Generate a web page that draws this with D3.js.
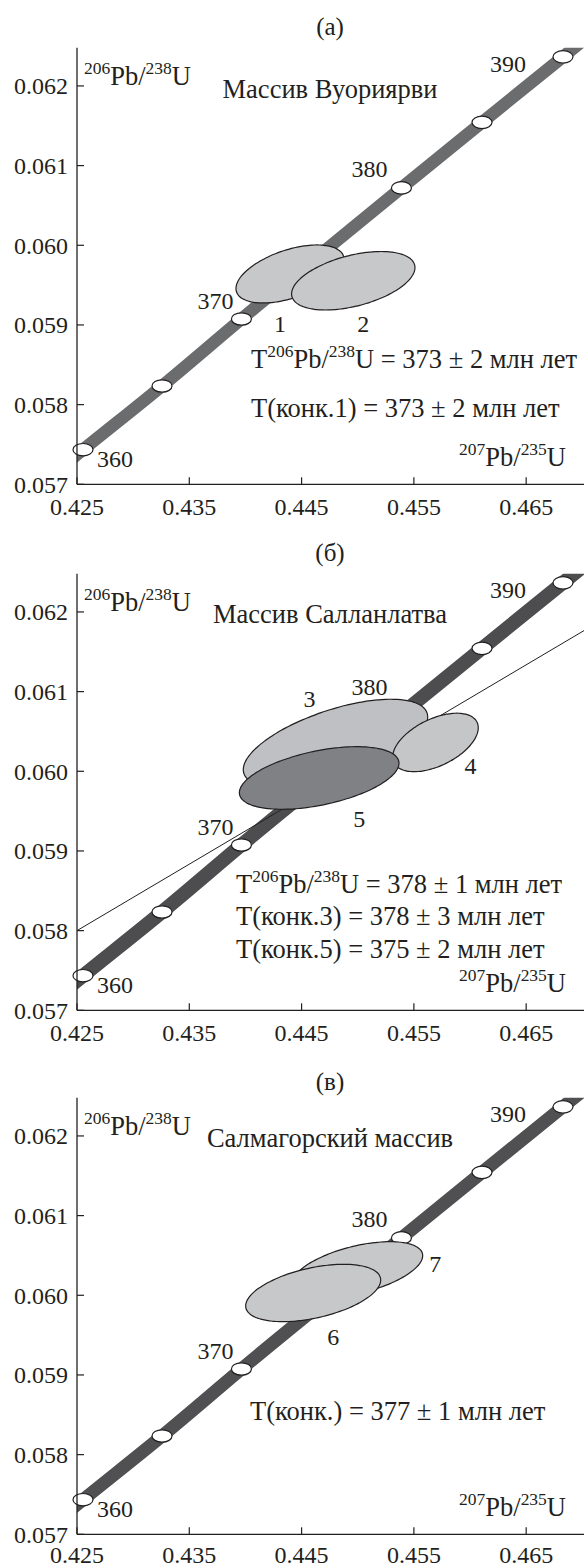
<!DOCTYPE html>
<html>
<head>
<meta charset="utf-8">
<script src="https://cdn.jsdelivr.net/npm/d3@7"></script>
<style>
  body { margin: 0; background: #fff; }
  svg { display: block; }
  text { font-family: "Liberation Serif", "Times New Roman", serif; fill: #231f20; }
</style>
</head>
<body>
<svg id="chart" width="584" height="1568"></svg>
<script>
// ---- data ----
const xTicks = [0.425, 0.435, 0.445, 0.455, 0.465];
const yTicks = [0.057, 0.058, 0.059, 0.060, 0.061, 0.062];

// concordia points (Ma, 207Pb/235U, 206Pb/238U)
const concordiaAges = [355, 360, 365, 370, 375, 380, 385, 390, 395];
const concordiaX = [0.418531, 0.425534, 0.432571, 0.439643, 0.446750, 0.453891, 0.461068, 0.468280, 0.475528];
const concordiaY = [0.056614, 0.057434, 0.058234, 0.059075, 0.059897, 0.060720, 0.061543, 0.062366, 0.063191];
const markerAges = [360, 365, 370, 375, 380, 385, 390];
const labelledAges = [360, 370, 380, 390];

// analyses: centre, 2-sigma half widths, correlation
const ellipsesA = [
  { id: "1", x: 0.443967, y: 0.059640, sx: 0.00481, sy: 0.000364, rho: 0.5 },
  { id: "2", x: 0.449604, y: 0.059555, sx: 0.005494, sy: 0.000367, rho: 0.45 }
];
const ellipsesB = [
  { id: "3", x: 0.448019, y: 0.060352, sx: 0.00821, sy: 0.000552, rho: 0.6 },
  { id: "4", x: 0.456923, y: 0.060362, sx: 0.003811, sy: 0.000367, rho: 0.5 },
  { id: "5", x: 0.446567, y: 0.059916, sx: 0.007106, sy: 0.000393, rho: 0.47 }
];
const ellipsesC = [
  { id: "7", x: 0.449960, y: 0.060322, sx: 0.005824, sy: 0.000351, rho: 0.5 },
  { id: "6", x: 0.446033, y: 0.060029, sx: 0.006011, sy: 0.000360, rho: 0.45 }
];

// discordia of panel (б)
const discordiaX = [0.4250, 0.4702];
const discordiaY = [0.05800, 0.06177];

const titles = ["(а)", "(б)", "(в)"];
const massifs = ["Массив Вуориярви", "Массив Салланлатва", "Салмагорский массив"];
const resultsA = [["T", "206", "Pb/", "238", "U = 373 ± 2 млн лет"], ["T(конк.1) = 373 ± 2 млн лет"]];
const resultsB = [["T", "206", "Pb/", "238", "U = 378 ± 1 млн лет"], ["T(конк.3) = 378 ± 3 млн лет"], ["T(конк.5) = 375 ± 2 млн лет"]];
const resultsC = [["T(конк.) = 377 ± 1 млн лет"]];

// ---- layout ----
const plotLeft = 77, plotRight = 584, plotTop = 47.7, plotBottom = 484.3;
const x = d3.scaleLinear().domain([0.425, 0.47015]).range([plotLeft, plotRight]);
const y = d3.scaleLinear().domain([0.057, 0.06248]).range([plotBottom, plotTop]);
const noteSize = 26.5;

const panels = [
  { off: 0, titleY: 35, ellipses: ellipsesA, results: resultsA, resX: 251, resY: [368, 417],
    band: "#6b6c6e", bandW: 12.5, fill: ["#c7c8ca", "#c7c8ca"],
    labelOff: { 1: [-10, 58], 2: [10, 51] }, age380: -11, discordia: false, xlabY: 515 },
  { off: 526, titleY: 35, ellipses: ellipsesB, results: resultsB, resX: 236, resY: [367, 399, 432],
    band: "#4d4d4f", bandW: 14, fill: ["#bfc0c3", "#c5c6c8", "#808184"],
    labelOff: { 3: [-26, -36], 4: [35, 32], 5: [40, 49] }, age380: -19, discordia: true, xlabY: 515 },
  { off: 1050, titleY: 40, ellipses: ellipsesC, results: resultsC, resX: 250, resY: [370],
    band: "#505052", bandW: 13, fill: ["#c7c8ca", "#c7c8ca"],
    labelOff: { 6: [20, 52], 7: [78, 2] }, age380: -11, discordia: false, xlabY: 513 }
];

const ageLabelOff = { 360: [32, 17], 370: [-26, -10], 380: [-32, -11], 390: [-55, 15] };

const svg = d3.select("#chart");
const defs = svg.append("defs");
defs.append("clipPath").attr("id", "plot-clip")
  .append("rect").attr("x", plotLeft).attr("y", plotTop)
  .attr("width", plotRight - plotLeft).attr("height", plotBottom - plotTop);

const concordia = concordiaAges.map((a, i) => ({ age: a, x: concordiaX[i], y: concordiaY[i] }));
const bandLine = d3.line().x(d => x(d.x)).y(d => y(d.y)).curve(d3.curveNatural);

function ellipsePath(e) {
  const pts = d3.range(0, 360, 3).map(deg => {
    const t = deg * Math.PI / 180;
    return [x(e.x + e.sx * Math.cos(t)),
            y(e.y + e.sy * (e.rho * Math.cos(t) + Math.sqrt(1 - e.rho * e.rho) * Math.sin(t)))];
  });
  return d3.line().curve(d3.curveCardinalClosed)(pts);
}

function ratioText(sel, parts, size) {
  // parts: plain, sup, plain, sup, plain ...
  const shift = Math.round(size * 0.42);
  parts.forEach((p, i) => {
    const sup = i % 2 === 1;
    sel.append("tspan")
      .attr("font-size", sup ? size * 0.66 : size)
      .attr("dy", sup ? -shift : (i > 0 ? shift : 0))
      .text(p);
  });
}

panels.forEach((p, k) => {
  const g = svg.append("g").attr("transform", `translate(0,${p.off})`);

  g.append("text").attr("x", 330).attr("y", p.titleY).attr("text-anchor", "middle")
    .attr("font-size", 25).text(titles[k]);

  // concordia band
  g.append("path").datum(concordia).attr("d", bandLine)
    .attr("clip-path", "url(#plot-clip)")
    .attr("fill", "none").attr("stroke", p.band).attr("stroke-width", p.bandW);

  if (p.discordia) {
    g.append("line")
      .attr("x1", x(discordiaX[0])).attr("y1", y(discordiaY[0]))
      .attr("x2", x(discordiaX[1])).attr("y2", y(discordiaY[1]))
      .attr("clip-path", "url(#plot-clip)")
      .attr("stroke", "#231f20").attr("stroke-width", 1);
  }

  // age markers
  const marks = concordia.filter(d => markerAges.includes(d.age));
  g.selectAll(".mark").data(marks).join("ellipse")
    .attr("cx", d => x(d.x)).attr("cy", d => y(d.y))
    .attr("rx", 10).attr("ry", 6.2)
    .attr("fill", "#fff").attr("stroke", "#231f20").attr("stroke-width", 1.2);

  g.selectAll(".age").data(marks.filter(d => labelledAges.includes(d.age))).join("text")
    .attr("x", d => x(d.x) + ageLabelOff[d.age][0])
    .attr("y", d => y(d.y) + (d.age === 380 ? p.age380 : ageLabelOff[d.age][1]))
    .attr("text-anchor", "middle").attr("font-size", 24)
    .text(d => d.age);

  // error ellipses
  g.selectAll(".ell").data(p.ellipses).join("path")
    .attr("d", ellipsePath)
    .attr("fill", (d, i) => p.fill[i])
    .attr("stroke", "#231f20").attr("stroke-width", 1.2);

  g.selectAll(".elab").data(p.ellipses).join("text")
    .attr("x", d => x(d.x) + p.labelOff[d.id][0])
    .attr("y", d => y(d.y) + p.labelOff[d.id][1])
    .attr("text-anchor", "middle").attr("font-size", 24)
    .text(d => d.id);

  // axes
  g.append("line").attr("x1", plotLeft).attr("x2", plotLeft).attr("y1", plotTop).attr("y2", plotBottom)
    .attr("stroke", "#231f20").attr("stroke-width", 1.3);
  g.append("line").attr("x1", plotLeft).attr("x2", plotRight).attr("y1", plotBottom).attr("y2", plotBottom)
    .attr("stroke", "#231f20").attr("stroke-width", 1.3);

  g.selectAll(".yt").data(yTicks).join("line")
    .attr("x1", plotLeft).attr("x2", plotLeft + 7).attr("y1", d => y(d)).attr("y2", d => y(d))
    .attr("stroke", "#231f20").attr("stroke-width", 1.2);
  g.selectAll(".ytl").data(yTicks).join("text")
    .attr("x", plotLeft - 9).attr("y", d => y(d) + 8.5)
    .attr("text-anchor", "end").attr("font-size", 24)
    .text(d => d.toFixed(3));

  g.selectAll(".xt").data(xTicks).join("line")
    .attr("x1", d => x(d)).attr("x2", d => x(d)).attr("y1", plotBottom).attr("y2", plotBottom - 7)
    .attr("stroke", "#231f20").attr("stroke-width", 1.2);
  g.selectAll(".xtl").data(xTicks).join("text")
    .attr("x", d => x(d)).attr("y", p.xlabY)
    .attr("text-anchor", "middle").attr("font-size", 24)
    .text(d => d.toFixed(3));

  // axis titles
  ratioText(g.append("text").attr("x", 84).attr("y", 85), ["", "206", "Pb/", "238", "U"], noteSize);
  ratioText(g.append("text").attr("x", 566).attr("y", 466).attr("text-anchor", "end"), ["", "207", "Pb/", "235", "U"], noteSize);

  g.append("text").attr("x", 330).attr("y", k === 0 ? 98 : 97).attr("text-anchor", "middle")
    .attr("font-size", noteSize).text(massifs[k]);

  p.results.forEach((r, i) => {
    const t = g.append("text").attr("x", p.resX).attr("y", p.resY[i]).attr("font-size", noteSize);
    ratioText(t, r, noteSize);
  });
});
</script>
</body>
</html>
